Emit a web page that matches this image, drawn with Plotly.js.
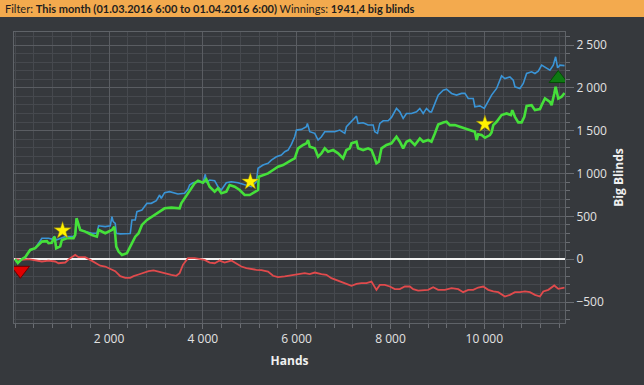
<!DOCTYPE html>
<html>
<head>
<meta charset="utf-8">
<script src="https://cdn.plot.ly/plotly-3.0.1.min.js"></script>
<style>
html,body{margin:0;padding:0;background:#36393d;}
#chart{width:644px;height:385px;}
</style>
</head>
<body>
<div id="chart"></div>
<script>
// Winnings (green)
const winHands = [0,57,140,213,320,427,569,676,711,780,839,875,960,996,1102,1244,1280,1308,1387,1493,1636,1742,1778,1920,2062,2112,2133,2155,2204,2276,2382,2489,2560,2631,2702,2809,2901,3043,3185,3328,3505,3541,3612,3719,3825,3897,4003,4074,4145,4252,4323,4394,4501,4572,4679,4785,4892,4999,5105,5177,5191,5283,5390,5497,5603,5710,5817,5888,5959,6030,6137,6208,6244,6279,6386,6457,6528,6599,6670,6777,6884,6990,7061,7132,7168,7275,7310,7417,7524,7595,7652,7701,7751,7808,7915,8021,8128,8199,8270,8341,8412,8519,8626,8697,8803,8874,8946,9017,9124,9195,9266,9373,9479,9586,9693,9799,9835,9870,9942,10013,10119,10155,10191,10262,10368,10475,10567,10596,10653,10724,10795,10852,10902,11008,11079,11186,11222,11293,11399,11435,11492,11520,11577,11648,11710];
const winValues = [0,-45,0,23,108,128,205,210,186,190,263,128,150,225,245,245,283,478,341,322,283,263,341,303,341,380,283,147,89,50,70,186,263,303,400,458,489,536,594,602,594,653,711,808,886,916,893,932,846,788,827,769,788,866,846,808,749,749,788,808,963,982,1002,1041,1080,1099,1138,1157,1177,1294,1333,1352,1391,1313,1294,1197,1236,1294,1255,1274,1236,1177,1274,1294,1352,1371,1294,1274,1294,1274,1197,1119,1138,1294,1333,1352,1430,1371,1294,1371,1391,1333,1410,1371,1391,1371,1468,1572,1596,1604,1565,1565,1546,1527,1507,1487,1390,1457,1449,1417,1449,1480,1565,1604,1682,1701,1682,1740,1662,1597,1597,1662,1790,1798,1740,1752,1798,1876,1837,1798,1935,2012,1876,1896,1941];

// All-in adjusted (blue)
const evHands = [0,57,140,213,320,427,569,711,780,839,875,960,1067,1244,1280,1308,1387,1493,1636,1742,1778,1920,2027,2062,2090,2133,2155,2240,2382,2453,2489,2560,2595,2702,2809,2901,3008,3079,3114,3185,3292,3399,3470,3612,3683,3719,3790,3897,4003,4053,4074,4145,4252,4323,4394,4501,4607,4750,4892,5034,5141,5177,5283,5390,5461,5568,5674,5746,5817,5888,5959,5995,6102,6208,6229,6279,6386,6457,6528,6599,6706,6812,6919,7026,7061,7132,7203,7275,7310,7417,7524,7630,7666,7723,7773,7844,7950,8021,8128,8199,8270,8341,8448,8555,8626,8697,8768,8839,8875,8946,9017,9124,9195,9302,9408,9515,9586,9657,9764,9799,9906,9999,10084,10155,10262,10368,10439,10546,10617,10653,10759,10831,10902,11008,11079,11150,11222,11328,11399,11470,11520,11563,11612,11710];
const evValues = [0,-45,0,23,108,128,245,245,235,263,225,245,263,263,283,478,341,322,303,303,390,380,390,497,438,419,303,295,295,300,458,458,555,574,652,652,683,749,711,777,788,777,761,769,816,866,893,904,893,991,893,924,916,846,808,893,904,893,866,846,904,1061,1099,1119,1157,1196,1216,1254,1274,1340,1429,1507,1515,1546,1585,1488,1469,1391,1429,1488,1488,1488,1507,1469,1546,1585,1624,1670,1585,1593,1566,1566,1488,1469,1585,1616,1616,1655,1760,1720,1643,1701,1701,1720,1760,1701,1760,1720,1720,1818,1915,1973,1984,1935,1915,1935,1935,1876,1876,1779,1790,1760,1837,1915,1993,2140,2109,2128,2090,2012,1993,2051,2168,2187,2168,2195,2265,2226,2207,2265,2362,2234,2265,2260];

// Non-showdown winnings (red)
const nsdHands = [0,142,284,427,569,711,853,924,1067,1173,1280,1351,1493,1600,1707,1813,1920,2027,2133,2240,2347,2453,2524,2631,2738,2844,2951,3043,3185,3328,3434,3505,3576,3683,3825,3932,4038,4145,4252,4359,4465,4607,4714,4821,4928,5034,5141,5248,5390,5497,5603,5746,5888,6030,6172,6279,6386,6528,6635,6741,6848,6955,7061,7168,7275,7381,7488,7595,7701,7773,7879,7986,8092,8199,8306,8412,8484,8590,8697,8803,8910,9017,9160,9302,9444,9550,9657,9764,9870,9977,10084,10191,10297,10439,10546,10653,10759,10866,10972,11079,11186,11257,11364,11492,11577,11710];
const nsdValues = [0,-8,0,-16,-27,-16,-27,-47,-39,12,50,23,23,-8,-47,-76,-86,-109,-140,-198,-218,-218,-198,-179,-159,-140,-130,-144,-163,-183,-194,-163,-66,12,12,0,-8,-39,-47,-16,-39,-16,-47,-86,-105,-117,-124,-128,-144,-194,-210,-202,-190,-183,-163,-175,-156,-175,-183,-222,-241,-261,-288,-311,-288,-280,-280,-261,-358,-300,-300,-319,-350,-350,-319,-319,-350,-366,-362,-358,-327,-358,-358,-338,-350,-385,-358,-358,-331,-319,-358,-377,-385,-436,-416,-385,-385,-377,-385,-416,-436,-377,-358,-307,-346,-331];

// Axis tick values
const handTicks = [2000,4000,6000,8000,10000];
const bbTicks = [-500,0,500,1000,1500,2000,2500];

// Milestone stars and extreme markers
const starHands = [1010,5013,10013];
const starValues = [333,904,1577];
const maxHand = [11577], maxValue = [2109];
const minHand = [110], minValue = [-130];

const traces = [
  {x:nsdHands, y:nsdValues, type:'scatter', mode:'lines', line:{color:'#e04a4c', width:1.8}, hoverinfo:'skip'},
  {x:evHands, y:evValues, type:'scatter', mode:'lines', line:{color:'#3a94d6', width:1.6}, hoverinfo:'skip'},
  {x:winHands, y:winValues, type:'scatter', mode:'lines', line:{color:'#45e03a', width:2.6}, hoverinfo:'skip'},
  {x:starHands, y:starValues, type:'scatter', mode:'markers', marker:{symbol:'star', size:13, color:'#fff200', line:{color:'#8a7a10', width:0.5}}},
  {x:maxHand, y:maxValue, type:'scatter', mode:'markers', marker:{symbol:'triangle-up', size:16, color:'#0e7a12', line:{color:'#064a08', width:1}}},
  {x:minHand, y:minValue, type:'scatter', mode:'markers', marker:{symbol:'triangle-down', size:16, color:'#e00000', line:{color:'#6a0000', width:1}}}
];

const layout = {
  width:644, height:385,
  margin:{l:14, r:79, t:32, b:62},
  paper_bgcolor:'#36393d', plot_bgcolor:'#36393d',
  showlegend:false,
  separators:', ',
  font:{family:'"Open Sans", "Noto Sans", sans-serif', size:12, color:'#e2e2e2'},
  xaxis:{
    range:[-25, 11720], tickmode:'array', tickvals:handTicks, tickformat:',d',
    showgrid:true, gridcolor:'#5a5d62', gridwidth:1,
    zeroline:false,
    showline:true, mirror:true, linecolor:'#5f6368', linewidth:1,
    ticks:'outside', ticklen:5, tickcolor:'#6a6d72',
    minor:{dtick:400, tick0:0, ticks:'outside', ticklen:4, tickcolor:'#6a6d72', showgrid:true, gridcolor:'#46494e', gridwidth:1},
    tickfont:{size:12, color:'#e2e2e2'},
    title:{text:'<b>Hands</b>', font:{size:12, color:'#f0f0f0'}, standoff:10}
  },
  yaxis:{
    side:'right', range:[-745, 2652], tickmode:'array', tickvals:bbTicks, tickformat:',d',
    showgrid:true, gridcolor:'#5a5d62', gridwidth:1,
    zeroline:true, zerolinecolor:'#f2f2f2', zerolinewidth:2,
    showline:true, mirror:true, linecolor:'#5f6368', linewidth:1,
    ticks:'outside', ticklen:8, tickcolor:'#6a6d72',
    minor:{dtick:100, tick0:0, ticks:'outside', ticklen:4, tickcolor:'#6a6d72', showgrid:true, gridcolor:'#46494e', gridwidth:1},
    tickfont:{size:12, color:'#e2e2e2'},
    title:{text:'<b>Big Blinds</b>', font:{size:12, color:'#f0f0f0'}, standoff:8}
  },
  shapes:[
    {type:'rect', xref:'paper', yref:'paper', x0:-0.03, x1:1.15, y0:1.0515, y1:1.12, fillcolor:'#f3aa4e', line:{width:0}, layer:'above'}
  ],
  annotations:[
    {xref:'paper', yref:'paper', x:-0.0205, y:1.081, xanchor:'left', yanchor:'middle', showarrow:false,
     text:'Filter: <b>This month (01.03.2016 6:00 to 01.04.2016 6:00)</b> Winnings: <b>1941,4 big blinds</b>',
     font:{size:11, color:'#1e1e1e', family:'Lato, "Open Sans", sans-serif'}}
  ]
};

Plotly.newPlot('chart', traces, layout, {staticPlot:true, displayModeBar:false});
</script>
</body>
</html>
